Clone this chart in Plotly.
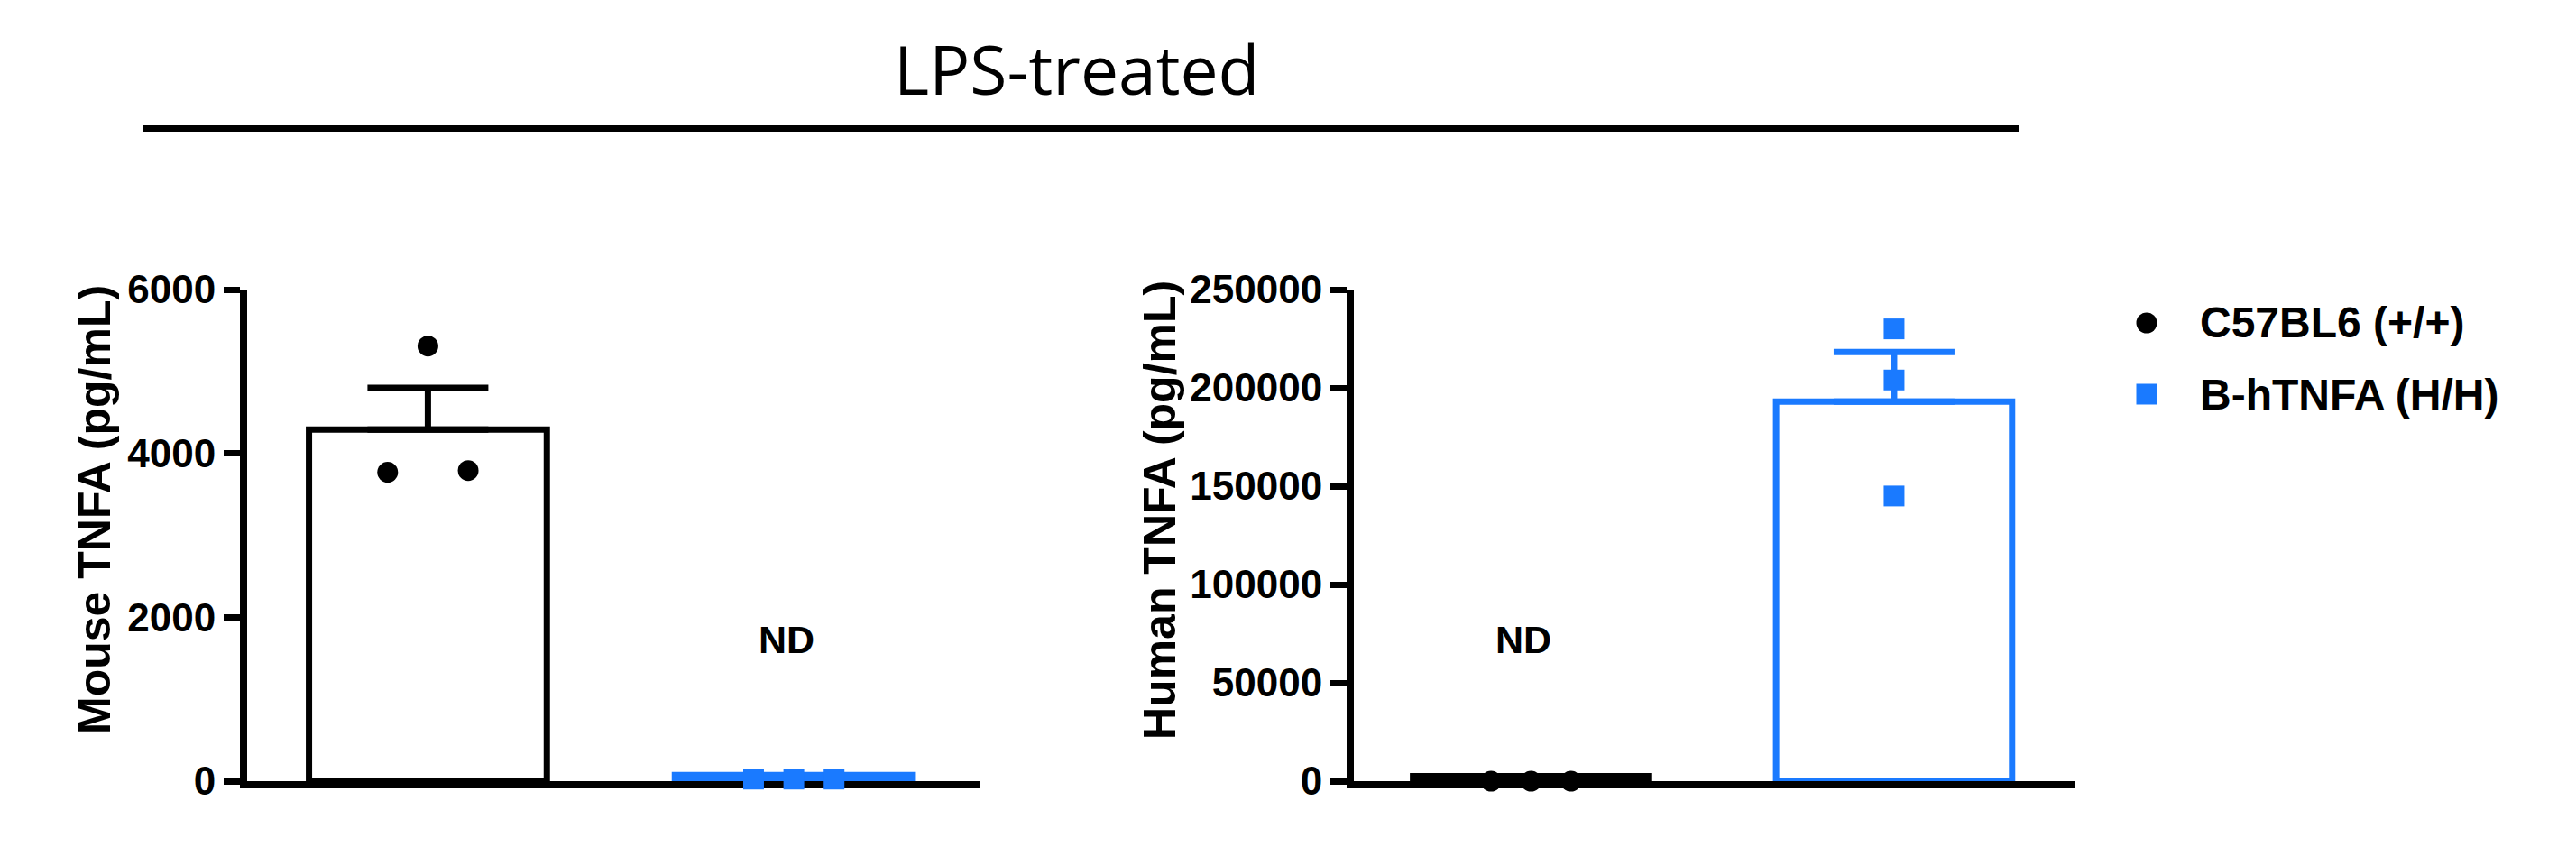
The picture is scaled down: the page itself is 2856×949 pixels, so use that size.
import plotly.graph_objects as go

# ---------------- data ----------------
categories = ["C57BL6 (+/+)", "B-hTNFA (H/H)"]
cat_pos = [0, 1]

mouse_c57_points = [3770, 5310, 3790]
mouse_h_points = [25, 25, 25]
mouse_means = [4290, 75]
mouse_sem = [510, 0]
mouse_nd = ["", "ND"]
mouse_ticks = [0, 2000, 4000, 6000]

human_c57_points = [0, 0, 0]
human_h_points = [230000, 204000, 145000]
human_means = [2500, 193000]
human_sem = [0, 25200]
human_nd = ["ND", ""]
human_ticks = [0, 50000, 100000, 150000, 200000, 250000]

panel_title = "LPS-treated"
ytitle_mouse = "Mouse TNFA (pg/mL)"
ytitle_human = "Human TNFA (pg/mL)"

# ---------------- style ----------------
W, H = 2856, 949
OFF = 8  # page body margin
BLACK = "#000000"
BLUE = "#1a7aff"
colors = [BLACK, BLUE]
symbols = ["circle", "square"]
JIT_SPREAD = [-0.11, 0.0, 0.11]
JIT_NONE = [0.0, 0.0, 0.0]
BOLD = "Liberation Sans, Arial, Helvetica, sans-serif"


def px(x):
    return (x - OFF) / W


def py(y):
    return 1 - (y - OFF) / H


fig = go.Figure()


def add_panel(xa, ya, means, sems, pts_list, jitters):
    for i, cat in enumerate(categories):
        fig.add_trace(go.Bar(
            x=[cat_pos[i]], y=[means[i]], width=0.65,
            marker=dict(color="white", line=dict(color=colors[i], width=7)),
            error_y=dict(type="data", array=[sems[i]], arrayminus=[0], symmetric=False,
                         color=colors[i], thickness=7, width=67, visible=sems[i] > 0),
            xaxis=xa, yaxis=ya, showlegend=False, hoverinfo="skip",
        ))
    for i, cat in enumerate(categories):
        fig.add_trace(go.Scatter(
            x=[cat_pos[i] + j for j in jitters[i]], y=pts_list[i], mode="markers",
            marker=dict(symbol=symbols[i], size=23, color=colors[i], line=dict(width=0)),
            xaxis=xa, yaxis=ya, cliponaxis=False, showlegend=False, name=cat,
        ))


add_panel("x", "y", mouse_means, mouse_sem, [mouse_c57_points, mouse_h_points], [JIT_SPREAD, JIT_SPREAD])
add_panel("x2", "y2", human_means, human_sem, [human_c57_points, human_h_points], [JIT_SPREAD, JIT_NONE])

ydom = [py(866), py(321)]
common_x = dict(showgrid=False, zeroline=False, showticklabels=False, ticks="", automargin=False,
                showline=True, linecolor=BLACK, linewidth=8, layer="below traces", fixedrange=True)
common_y = dict(showgrid=False, zeroline=False, showline=True, linecolor=BLACK, linewidth=8,
                ticks="outside", ticklen=18, tickwidth=7, tickcolor=BLACK, automargin=False,
                tickfont=dict(family=BOLD, size=44, color=BLACK, weight="bold"),
                layer="below traces", domain=ydom, fixedrange=True)

fig.update_layout(
    width=W, height=H, autosize=False,
    margin=dict(l=0, r=0, t=0, b=0, pad=0, autoexpand=False),
    paper_bgcolor="white", plot_bgcolor="white",
    barmode="overlay", showlegend=False,
    xaxis=dict(domain=[px(274), px(1087)], range=[-0.494, 1.51], **common_x),
    yaxis=dict(range=[0, 6000], tickvals=mouse_ticks, ticktext=[str(t) for t in mouse_ticks], **common_y),
    xaxis2=dict(domain=[px(1501), px(2300)], range=[-0.488, 1.497], anchor="y2", **common_x),
    yaxis2=dict(range=[0, 250000], tickvals=human_ticks, ticktext=[str(t) for t in human_ticks],
                anchor="x2", **common_y),
)

annotations = []
# panel title
annotations.append(dict(text=panel_title, x=px(1193), y=py(76), xref="paper", yref="paper",
                        xanchor="center", yanchor="middle", showarrow=False,
                        font=dict(family="Open Sans, Noto Sans, sans-serif", size=75, color=BLACK)))
# axis titles
annotations.append(dict(text=ytitle_mouse, x=px(105), y=py(565), xref="paper", yref="paper",
                        textangle=-90, xanchor="center", yanchor="middle", showarrow=False,
                        font=dict(family=BOLD, size=50, color=BLACK, weight="bold")))
annotations.append(dict(text=ytitle_human, x=px(1286), y=py(566), xref="paper", yref="paper",
                        textangle=-90, xanchor="center", yanchor="middle", showarrow=False,
                        font=dict(family=BOLD, size=50, color=BLACK, weight="bold")))
# ND labels
for xr, labels in (("x", mouse_nd), ("x2", human_nd)):
    for i, lab in enumerate(labels):
        if lab:
            annotations.append(dict(text=lab, x=cat_pos[i], y=py(709), xref=xr, yref="paper",
                                    xanchor="center", yanchor="middle", showarrow=False, xshift=-8,
                                    font=dict(family=BOLD, size=43, color=BLACK, weight="bold")))
# legend texts
leg_y = [358, 437]
for i, cat in enumerate(categories):
    annotations.append(dict(text=cat, x=px(2437), y=py(leg_y[i]), xref="paper", yref="paper",
                            xanchor="left", yanchor="middle", showarrow=False,
                            font=dict(family=BOLD, size=48, color=BLACK, weight="bold")))
fig.update_layout(annotations=annotations)

shapes = [dict(type="line", xref="paper", yref="paper", x0=px(159), x1=px(2239), y0=py(142.5), y1=py(142.5),
               line=dict(color=BLACK, width=7))]
for i, cat in enumerate(categories):
    cx, cy, r = 2380, leg_y[i], 11.5
    shapes.append(dict(type="circle" if symbols[i] == "circle" else "rect", xref="paper", yref="paper",
                       x0=px(cx - r), x1=px(cx + r), y0=py(cy + r), y1=py(cy - r),
                       fillcolor=colors[i], line=dict(width=0)))
fig.update_layout(shapes=shapes)

fig.write_html("out.html")
